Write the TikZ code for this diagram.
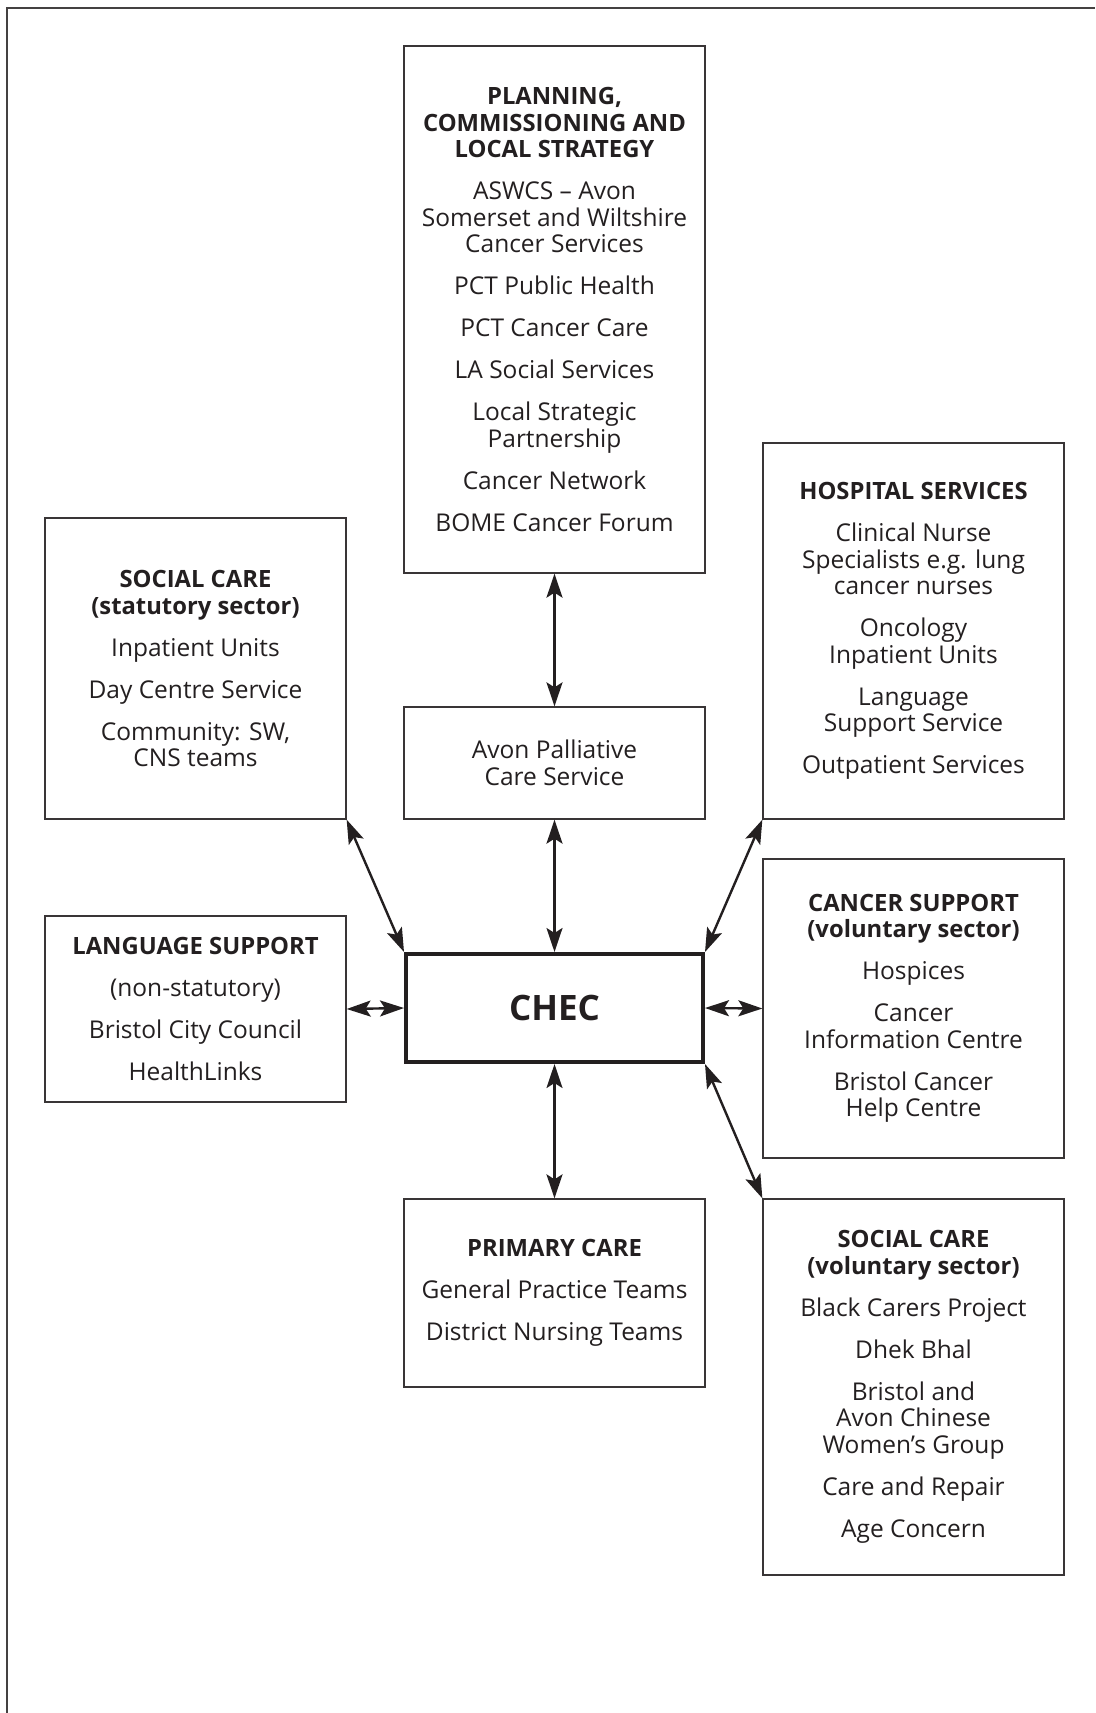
\documentclass[tikz,border=0pt]{standalone}
\usepackage{fontspec}
\setmainfont{Open Sans}
\usetikzlibrary{arrows.meta}
\definecolor{ink}{HTML}{231F20}
\newcommand\itemgap{\\[15.5pt]}
\newcommand\hd[1]{{\fontsize{23.8pt}{26.5pt}\selectfont\bfseries #1}}
\tikzset{
  box/.style={draw=ink!90, line width=1.3pt, align=center, text=ink, inner sep=0pt,
    font=\fontsize{24.5pt}{26.5pt}\selectfont, minimum width=301pt},
  chexbox/.style={draw=ink, line width=4pt, align=center, text=ink, inner sep=0pt,
    font=\fontsize{35pt}{40pt}\selectfont\bfseries, minimum width=297pt, minimum height=108pt},
  biarrow/.style={{Stealth[length=24pt,width=16pt,inset=5pt]}-{Stealth[length=24pt,width=16pt,inset=5pt]}, line width=2.4pt, draw=ink},
  frame/.style={draw=ink!85, line width=2pt}
}
\begin{document}
\begin{tikzpicture}[x=1pt,y=-1pt]
\useasboundingbox (0,0) rectangle (1095,1713);
\draw[frame] (7,1713) -- (7,7.5) -- (1095,7.5);

\node[box, minimum height=527pt] (plan) at (554.5,309.5) {\hd{PLANNING,}\\\hd{COMMISSIONING AND}\\\hd{LOCAL STRATEGY}\itemgap
ASWCS -- Avon\\Somerset and Wiltshire\\Cancer Services\itemgap
PCT Public Health\itemgap
PCT Cancer Care\itemgap
LA Social Services\itemgap
Local Strategic\\Partnership\itemgap
Cancer Network\itemgap
BOME Cancer Forum};

\node[box, minimum height=301pt] (socstat) at (195.5,668.5) {\hd{SOCIAL CARE}\\\hd{(statutory sector)}\itemgap
Inpatient Units\itemgap
Day Centre Service\itemgap
Community: SW,\\CNS teams};

\node[box, minimum height=112pt] (avon) at (554.5,763) {Avon Palliative\\Care Service};

\node[box, minimum height=376pt] (hosp) at (913.5,631) {\hd{HOSPITAL SERVICES}\itemgap
Clinical Nurse\\Specialists e.g. lung\\cancer nurses\itemgap
Oncology\\Inpatient Units\itemgap
Language\\Support Service\itemgap
Outpatient Services};

\node[box, minimum height=186pt] (lang) at (195.5,1009) {\hd{LANGUAGE SUPPORT}\itemgap
(non-statutory)\itemgap
Bristol City Council\itemgap
HealthLinks};

\node[chexbox] (chec) at (554.5,1008) {CHEC};

\node[box, minimum height=299pt] (cancer) at (913.5,1008.5) {\hd{CANCER SUPPORT}\\\hd{(voluntary sector)}\itemgap
Hospices\itemgap
Cancer\\Information Centre\itemgap
Bristol Cancer\\Help Centre};

\node[box, minimum height=188pt] (prim) at (554.5,1293) {\hd{PRIMARY CARE}\itemgap
General Practice Teams\itemgap
District Nursing Teams};

\node[box, minimum height=376pt] (socvol) at (913.5,1387) {\hd{SOCIAL CARE}\\\hd{(voluntary sector)}\itemgap
Black Carers Project\itemgap
Dhek Bhal\itemgap
Bristol and\\Avon Chinese\\Women’s Group\itemgap
Care and Repair\itemgap
Age Concern};

\draw[biarrow] (plan.south) -- (avon.north);
\draw[biarrow] (avon.south) -- (chec.north);
\draw[biarrow] (chec.south) -- (prim.north);
\draw[biarrow] (socstat.south east) -- (chec.north west);
\draw[biarrow] (hosp.south west) -- (chec.north east);
\draw[biarrow] (chec.south east) -- (socvol.north west);
\draw[biarrow] (lang.east) -- (chec.west);
\draw[biarrow] (chec.east) -- (cancer.west);
\end{tikzpicture}
\end{document}
